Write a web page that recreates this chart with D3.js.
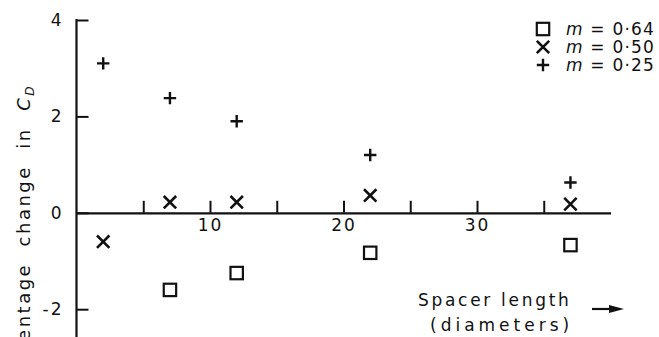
<!DOCTYPE html>
<html>
<head>
<meta charset="utf-8">
<script src="https://cdn.jsdelivr.net/npm/d3@7"></script>
<style>
    body { margin: 0; background: #fff; }
    svg text { font-family: "DejaVu Sans", sans-serif; fill: #111; white-space: pre; }
</style>
</head>
<body>
<svg id="chart" width="659" height="337"></svg>
<script>
// spacer length (diameters) at which each run was made
const spacerLength = [2, 7, 12, 22, 37];

// percentage change in C_D, one array per m value
const m064 = [null, -1.6, -1.25, -0.83, -0.67];
const m050 = [-0.6, 0.22, 0.22, 0.36, 0.18];
const m025 = [3.1, 2.38, 1.9, 1.2, 0.63];

const xTicks = [5, 10, 15, 20, 25, 30, 35];
const xLabels = [10, 20, 30];
const yTicks = [-2, 0, 2, 4];

const legendLabels = ['0·64', '0·50', '0·25'];

const svg = d3.select('#chart');
const ink = '#111';

const x = d3.scaleLinear().domain([0, 40]).range([76.5, 610.5]);
const y = d3.scaleLinear().domain([4, -2]).range([20, 309.2]);

// y axis: line runs off the bottom of the picture
svg.append('g')
    .attr('transform', `translate(${x(0)},0)`)
    .call(d3.axisLeft(y).tickValues(yTicks).tickSizeInner(-12).tickSizeOuter(0).tickPadding(13)
        .tickFormat(d => d < 0 ? '-' + Math.abs(d) : d))
    .call(g => g.select('.domain').remove())
    .call(g => g.selectAll('line').attr('stroke', ink).attr('stroke-width', 2))
    .call(g => g.selectAll('text').attr('font-size', 17).attr('letter-spacing', 2)
        .attr('font-family', '"DejaVu Sans", sans-serif').attr('fill', ink));

svg.append('line')
    .attr('x1', x(0)).attr('x2', x(0))
    .attr('y1', y(4) - 1).attr('y2', 337)
    .attr('stroke', ink).attr('stroke-width', 2.2);

// x axis along zero, ticks pointing up
svg.append('g')
    .attr('transform', `translate(0,${y(0)})`)
    .call(d3.axisBottom(x).tickValues(xTicks).tickSizeInner(-12).tickSizeOuter(0).tickPadding(6)
        .tickFormat(d => xLabels.includes(d) ? d : ''))
    .call(g => g.select('.domain').attr('stroke', ink).attr('stroke-width', 2.2))
    .call(g => g.selectAll('line').attr('stroke', ink).attr('stroke-width', 2))
    .call(g => g.selectAll('text').attr('font-size', 17).attr('letter-spacing', 2)
        .attr('font-family', '"DejaVu Sans", sans-serif').attr('fill', ink));

// markers
const sz = 6.2;
const drawSquare = (g, cx, cy) => g.append('rect')
    .attr('x', cx - sz).attr('y', cy - sz).attr('width', 2 * sz).attr('height', 2 * sz)
    .attr('fill', 'none').attr('stroke', ink).attr('stroke-width', 2.2);
const drawCross = (g, cx, cy) => g.append('path')
    .attr('d', `M${cx - sz},${cy - sz}L${cx + sz},${cy + sz}M${cx - sz},${cy + sz}L${cx + sz},${cy - sz}`)
    .attr('stroke', ink).attr('stroke-width', 2.6).attr('fill', 'none');
const drawPlus = (g, cx, cy) => g.append('path')
    .attr('d', `M${cx - sz},${cy}H${cx + sz}M${cx},${cy - sz}V${cy + sz}`)
    .attr('stroke', ink).attr('stroke-width', 2.4).attr('fill', 'none');

const series = [
    { values: m064, draw: drawSquare },
    { values: m050, draw: drawCross },
    { values: m025, draw: drawPlus },
];

const marks = svg.append('g');
series.forEach(s => {
    s.values.forEach((v, i) => {
        if (v === null) return;
        s.draw(marks, x(spacerLength[i]), y(v));
    });
});

// legend, top right
const legend = svg.append('g');
series.forEach((s, i) => {
    const ly = 29 + i * 18;
    s.draw(legend, 543, ly);
    const t = legend.append('text')
        .attr('x', 566).attr('y', ly + 6)
        .attr('font-size', 17).attr('letter-spacing', 1.2);
    t.append('tspan').attr('font-style', 'italic').text('m');
    t.append('tspan').text(' = ' + legendLabels[i]);
});

// y axis title, cut off at the bottom edge
const yt = svg.append('text')
    .attr('transform', 'translate(30,84) rotate(-90)')
    .attr('text-anchor', 'end')
    .attr('font-size', 18).attr('letter-spacing', 2.5);
yt.append('tspan').text('Percentage  change  in  ');
yt.append('tspan').attr('font-style', 'italic').text('C');
yt.append('tspan').attr('font-size', 12).attr('font-style', 'italic').attr('dy', 4).text('D');

// x axis title with arrow
svg.append('text')
    .attr('x', 418).attr('y', 306)
    .attr('font-size', 17).attr('letter-spacing', 2.7)
    .text('Spacer length');
svg.append('text')
    .attr('x', 430).attr('y', 331)
    .attr('font-size', 17).attr('letter-spacing', 4)
    .text('(diameters)');
svg.append('line')
    .attr('x1', 592).attr('x2', 612).attr('y1', 309).attr('y2', 309)
    .attr('stroke', ink).attr('stroke-width', 2.2);
svg.append('path')
    .attr('d', 'M609,305L624,309L609,313Z')
    .attr('fill', ink);
</script>
</body>
</html>
